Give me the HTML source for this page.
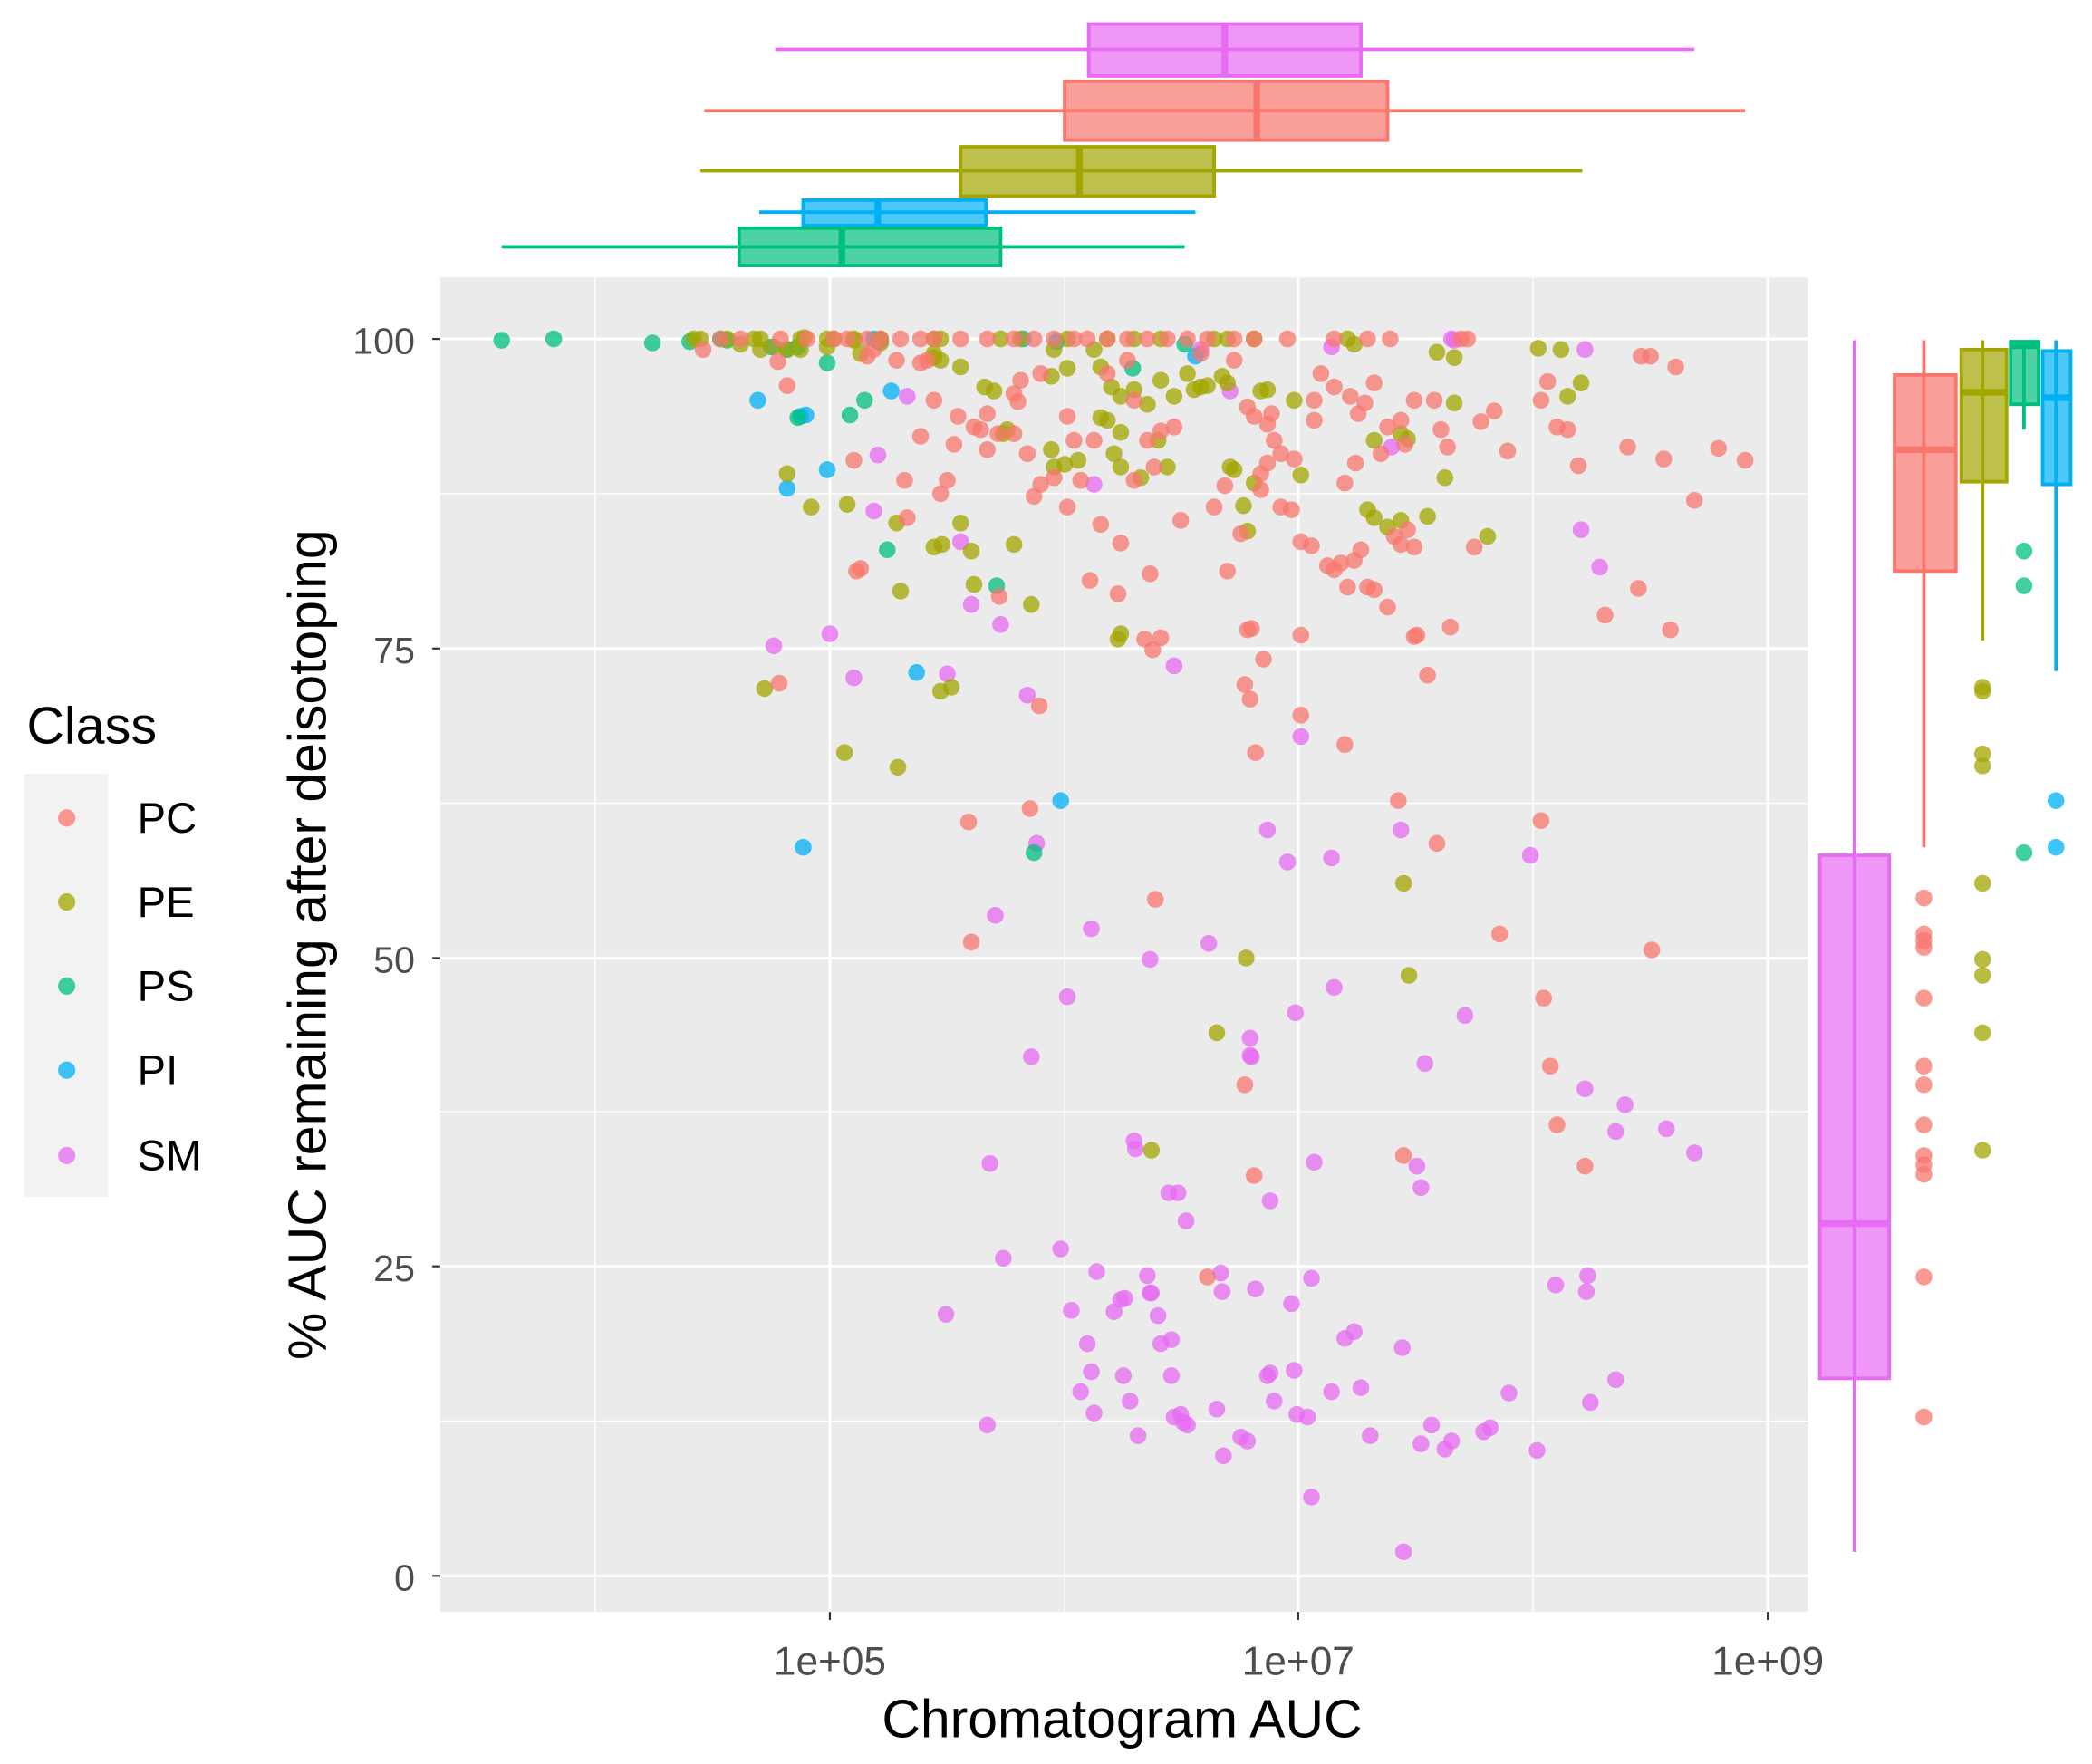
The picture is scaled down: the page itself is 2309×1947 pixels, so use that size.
<!DOCTYPE html>
<html><head><meta charset="utf-8"><style>html,body{margin:0;padding:0;background:#fff}svg{display:block}</style></head>
<body>
<svg id="s" width="2309" height="1947" viewBox="0 0 1568 1322" preserveAspectRatio="none" xmlns="http://www.w3.org/2000/svg" font-family="Liberation Sans, sans-serif">
<rect width="1568" height="1322" fill="#fff"/>
<rect x="330" y="208" width="1025" height="1000" fill="#EBEBEB"/>
<g stroke="#fff" stroke-width="1">
<line x1="330" x2="1355" y1="1065" y2="1065"/><line x1="330" x2="1355" y1="833" y2="833"/><line x1="330" x2="1355" y1="602" y2="602"/><line x1="330" x2="1355" y1="370" y2="370"/>
<line x1="446" x2="446" y1="208" y2="1208"/><line x1="798" x2="798" y1="208" y2="1208"/><line x1="1149" x2="1149" y1="208" y2="1208"/>
</g>
<g stroke="#fff" stroke-width="2.2">
<line x1="330" x2="1355" y1="1181" y2="1181"/><line x1="330" x2="1355" y1="949" y2="949"/><line x1="330" x2="1355" y1="718" y2="718"/><line x1="330" x2="1355" y1="486" y2="486"/><line x1="330" x2="1355" y1="254" y2="254"/>
<line x1="622" x2="622" y1="208" y2="1208"/><line x1="973" x2="973" y1="208" y2="1208"/><line x1="1325" x2="1325" y1="208" y2="1208"/>
</g>
<g stroke="#333" stroke-width="1.5">
<line x1="324" x2="330" y1="1181" y2="1181"/><line x1="324" x2="330" y1="949" y2="949"/><line x1="324" x2="330" y1="718" y2="718"/><line x1="324" x2="330" y1="486" y2="486"/><line x1="324" x2="330" y1="254" y2="254"/>
<line x1="622" x2="622" y1="1208" y2="1214"/><line x1="973" x2="973" y1="1208" y2="1214"/><line x1="1325" x2="1325" y1="1208" y2="1214"/>
</g>
<g fill="#4D4D4D" font-size="28" text-anchor="end">
<text x="311" y="1192">0</text><text x="311" y="960">25</text><text x="311" y="729">50</text><text x="311" y="497">75</text><text x="311" y="265">100</text>
</g>
<g fill="#4D4D4D" font-size="30" text-anchor="middle">
<text x="622" y="1255">1e+05</text><text x="973" y="1255">1e+07</text><text x="1325" y="1255">1e+09</text>
</g>
<text x="841" y="1302" font-size="40" text-anchor="middle" fill="#000">Chromatogram AUC</text>
<text transform="translate(244,708) rotate(-90)" font-size="40" text-anchor="middle" fill="#000">% AUC remaining after deisotoping</text>
<text x="20" y="557" font-size="39" fill="#000">Class</text>
<rect x="18" y="580" width="63" height="317" fill="#F2F2F2"/>
<g font-size="32" fill="#000">
<text x="103" y="624">PC</text><text x="103" y="687">PE</text><text x="103" y="750">PS</text><text x="103" y="813">PI</text><text x="103" y="877">SM</text>
</g>
<g fill-opacity="0.75">
<circle cx="50" cy="613" r="6.5" fill="#F8766D"/><circle cx="50" cy="676" r="6.5" fill="#A3A500"/><circle cx="50" cy="739" r="6.5" fill="#00BF7D"/><circle cx="50" cy="802" r="6.5" fill="#00B0F6"/><circle cx="50" cy="866" r="6.5" fill="#E76BF3"/>
</g>
<g id="pts"></g>
<g stroke-width="2.6">
<g stroke="#E76BF3"><line x1="581" x2="1270" y1="37" y2="37"/><rect x="816" y="18" width="204" height="39" fill="#E76BF3" fill-opacity="0.7"/><line x1="918" x2="918" y1="18" y2="57" stroke-width="5"/></g>
<g stroke="#F8766D"><line x1="528" x2="1308" y1="83" y2="83"/><rect x="798" y="61" width="242" height="44" fill="#F8766D" fill-opacity="0.7"/><line x1="942" x2="942" y1="61" y2="105" stroke-width="5"/></g>
<g stroke="#A3A500"><line x1="525" x2="1186" y1="128" y2="128"/><rect x="720" y="110" width="190" height="37" fill="#A3A500" fill-opacity="0.7"/><line x1="809" x2="809" y1="110" y2="147" stroke-width="5"/></g>
<g stroke="#00B0F6"><line x1="569" x2="896" y1="159" y2="159"/><rect x="602" y="150" width="137" height="19" fill="#00B0F6" fill-opacity="0.7"/><line x1="658" x2="658" y1="150" y2="169" stroke-width="5"/></g>
<g stroke="#00BF7D"><line x1="376" x2="888" y1="185" y2="185"/><rect x="554" y="171" width="196" height="28" fill="#00BF7D" fill-opacity="0.7"/><line x1="631" x2="631" y1="171" y2="199" stroke-width="5"/></g>
</g>
<g stroke-width="2.6">
<g stroke="#E76BF3"><line x1="1390" x2="1390" y1="255" y2="1163"/><rect x="1364" y="641" width="52" height="392" fill="#E76BF3" fill-opacity="0.7"/><line x1="1364" x2="1416" y1="917" y2="917" stroke-width="5"/></g>
<g stroke="#F8766D"><line x1="1442" x2="1442" y1="255" y2="635"/><rect x="1420" y="281" width="46" height="147" fill="#F8766D" fill-opacity="0.7"/><line x1="1420" x2="1466" y1="337" y2="337" stroke-width="5"/></g>
<g stroke="#A3A500"><line x1="1486" x2="1486" y1="255" y2="480"/><rect x="1470" y="262" width="34" height="99" fill="#A3A500" fill-opacity="0.7"/><line x1="1470" x2="1504" y1="294" y2="294" stroke-width="5"/></g>
<g stroke="#00BF7D"><line x1="1517" x2="1517" y1="255" y2="322"/><rect x="1507" y="256" width="21" height="47" fill="#00BF7D" fill-opacity="0.7"/><line x1="1507" x2="1528" y1="259" y2="259" stroke-width="5"/></g>
<g stroke="#00B0F6"><line x1="1541" x2="1541" y1="255" y2="503"/><rect x="1531" y="263" width="21" height="100" fill="#00B0F6" fill-opacity="0.7"/><line x1="1531" x2="1552" y1="298" y2="298" stroke-width="5"/></g>
</g>
</svg>
<script>
var C={PC:"#F8766D",PE:"#A3A500",PS:"#00BF7D",PI:"#00B0F6",SM:"#E76BF3"};
var D={};
D.PC=[];[540,555,585,605,625,635,650,660,675,690,700,720,740,760,775,790,805,815,830,845,860,875,890,905,925,940,965,1000,1025,1042,1095,1100].forEach(function(x){D.PC.push([x,254]);});
D.PC=D.PC.concat([[527,262],[583,271],[590,289],[640,345],[645,426],[642,428],[680,388],[678,360],[690,327],[695,270],[718,312],[715,333],[710,360],[705,370],[730,320],[735,322],[740,337],[748,325],[760,325],[765,285],[763,301],[770,340],[775,372],[780,363],[790,358],[800,312],[805,330],[817,435],[825,393],[840,407],[838,445],[850,360],[860,330],[865,350],[870,323],[880,320],[885,390],[862,430],[864,487],[870,478],[858,479],[910,380],[918,364],[920,428],[940,312],[950,318],[955,330],[960,340],[970,344],[975,406],[983,409],[995,424],[1000,427],[1005,422],[1010,440],[1015,420],[1020,412],[1025,440],[1030,442],[1040,455],[1045,402],[1050,408],[1055,397],[1060,410],[1070,506],[1060,477],[1062,476],[1087,470],[1080,322],[1085,335],[1105,410],[1110,316],[1120,308],[1130,338],[1155,300],[1160,286],[1167,320],[1175,322],[1183,349],[1203,461],[1220,335],[1228,441],[1247,344],[1252,472],[1270,375],[1288,336],[1308,345],[1230,267],[1237,267],[1256,275],[938,471],[933,513],[937,524],[947,494],[975,536],[935,472],[941,564],[1008,558],[975,476],[1048,600],[1077,632],[1155,615],[1124,700],[1238,712],[1157,748],[1162,799],[1167,843],[1188,874],[1052,866],[940,881],[933,813],[866,674],[728,706],[726,616],[772,606],[779,529],[749,447],[584,512],[930,400],[945,355],[953,310],[985,300],[1012,297],[1030,287],[1050,315],[1023,302],[900,265],[925,270],[935,305],[990,280],[1000,290],[1040,320],[1075,300],[905,957],[985,315],[960,380],[968,382],[945,367],[950,347],[1035,340],[1018,310],[1053,333],[1060,300],[1008,362],[1016,347],[800,380],[810,360],[820,330],[850,300],[845,270],[830,280],[780,280],[740,310],[700,300],[690,272],[672,270],[650,267],[655,262],[760,295]]);
[673,700,705,710,748,799,813,843,866,873,880,957,1062].forEach(function(y){D.PC.push([1442,y]);});
D.PE=[];[520,525,545,565,570,600,620,625,640,660,700,705,750,765,800,830,850,870,910,920,940,1010].forEach(function(x){D.PE.push([x,254]);});
D.PE=D.PE.concat([[555,258],[570,262],[590,262],[603,253],[640,255],[645,265],[660,257],[700,265],[705,270],[720,275],[738,290],[745,293],[752,325],[755,322],[790,262],[800,276],[788,282],[820,262],[825,275],[833,290],[840,297],[850,292],[860,303],[870,285],[880,297],[890,280],[895,292],[900,290],[905,289],[916,282],[920,287],[945,293],[950,292],[970,300],[825,313],[830,315],[840,324],[835,340],[868,330],[875,350],[855,358],[840,350],[788,337],[790,350],[798,348],[808,345],[590,355],[608,380],[635,378],[672,392],[706,408],[700,410],[720,392],[728,413],[730,438],[760,408],[773,453],[838,479],[840,475],[922,350],[925,352],[940,362],[932,379],[935,398],[975,356],[1025,382],[1030,388],[1040,395],[1050,390],[1070,387],[1055,329],[1083,358],[1090,302],[1077,264],[1090,268],[1015,258],[1153,261],[1175,297],[1185,287],[1115,402],[573,516],[633,564],[673,575],[705,518],[713,515],[912,774],[934,718],[1052,662],[1056,731],[863,862],[1170,262],[1030,330],[1050,325],[675,443],[700,268],[600,262],[620,260],[580,260]]);
[515,518,565,574,662,719,731,774,862].forEach(function(y){D.PE.push([1486,y]);});
D.PS=[[376,255],[415,254],[489,257],[517,256],[540,254],[545,255],[590,262],[598,260],[620,272],[637,311],[648,300],[665,412],[747,439],[849,276],[888,258],[775,639],[598,313],[1517,413],[1517,439],[1517,639]];
D.PI=[[578,260],[568,300],[600,312],[604,311],[590,366],[620,352],[668,293],[687,504],[602,635],[767,254],[795,600],[896,267],[655,254],[660,255],[658,256],[792,256],[1541,600],[1541,635]];
D.SM=[[580,484],[622,475],[640,508],[655,383],[658,341],[680,297],[710,505],[720,406],[728,453],[750,468],[770,521],[777,632],[773,792],[746,686],[742,872],[752,943],[740,1068],[709,985],[795,936],[800,747],[803,982],[810,1043],[815,1007],[818,1028],[820,1059],[822,953],[835,983],[840,974],[842,1031],[847,1050],[850,855],[851,861],[853,1076],[860,956],[862,969],[868,986],[870,1007],[878,1004],[878,1031],[880,1062],[885,1060],[887,1066],[890,1068],[883,894],[889,915],[880,499],[862,719],[906,707],[915,954],[916,968],[912,1056],[917,1091],[930,1077],[935,1080],[937,791],[941,966],[950,1031],[952,1029],[955,1050],[968,977],[970,1027],[972,1060],[980,1062],[983,958],[952,900],[937,778],[938,792],[965,646],[950,622],[922,293],[900,262],[998,260],[975,552],[971,759],[985,871],[983,1122],[998,643],[1000,740],[998,1043],[1008,1003],[1015,998],[1020,1040],[1027,1076],[1051,1010],[1050,622],[1052,1163],[1062,874],[1065,890],[1068,797],[1065,1082],[1073,1068],[1083,1086],[1088,1080],[1098,761],[1112,1073],[1117,1070],[1131,1044],[1147,641],[1152,1087],[1166,963],[1185,397],[1199,425],[1188,816],[1190,956],[1189,968],[1192,1051],[1211,848],[1211,1034],[1218,828],[1249,846],[1270,864],[1188,262],[1043,335],[1088,254],[1090,255],[818,696],[843,973],[863,969],[876,894],[820,363]];
var g=document.getElementById("pts"),h="";
["SM","PI","PS","PE","PC"].forEach(function(k){D[k].forEach(function(p){h+='<circle cx="'+p[0]+'" cy="'+p[1]+'" r="6.3" fill="'+C[k]+'" fill-opacity="0.75"/>';});});
g.innerHTML=h;
</script>
</body></html>
